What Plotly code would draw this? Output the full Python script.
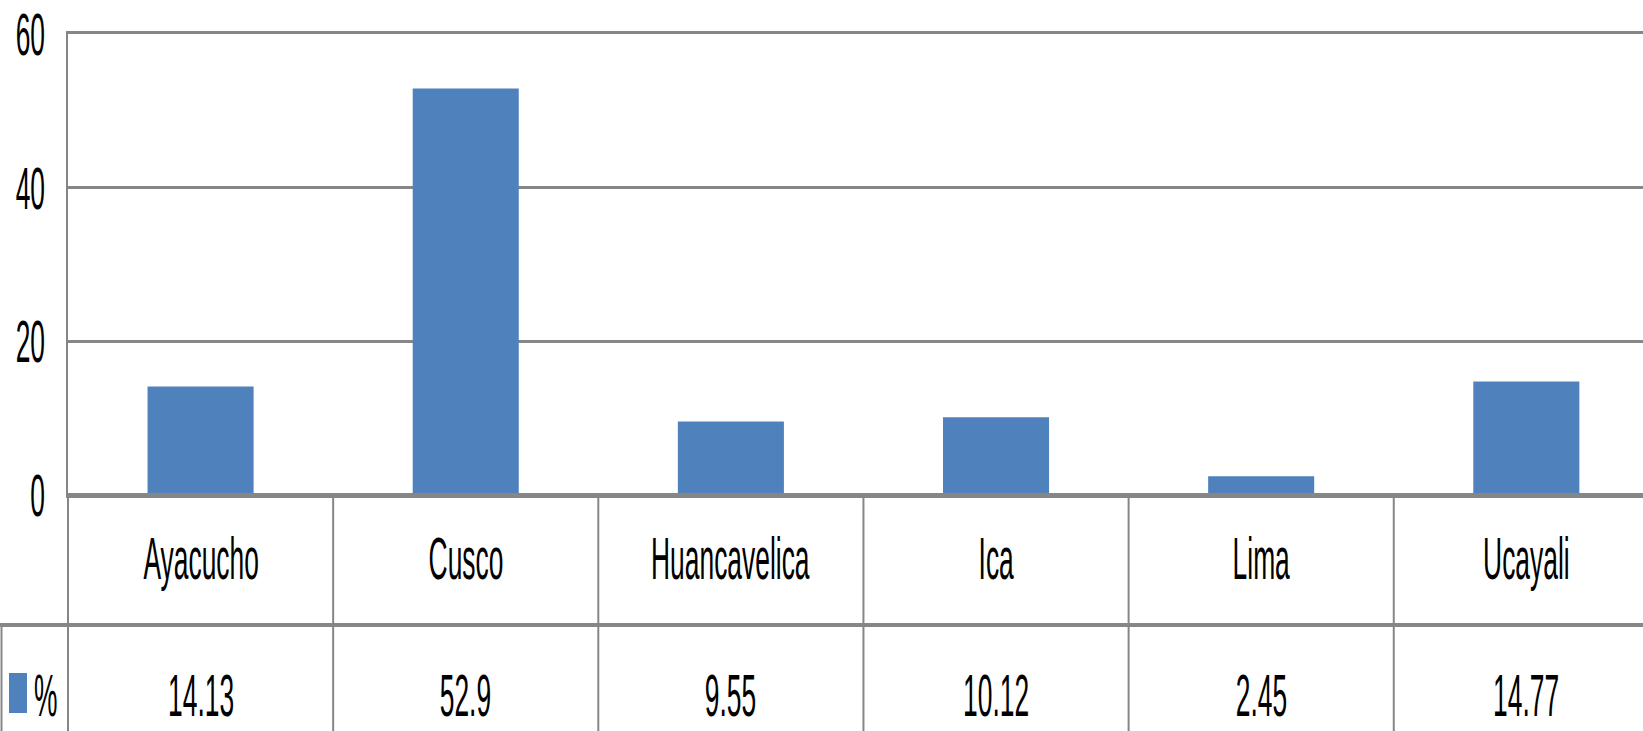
import plotly.graph_objects as go

categories = ["Ayacucho", "Cusco", "Huancavelica", "Ica", "Lima", "Ucayali"]
values = [14.13, 52.9, 9.55, 10.12, 2.45, 14.77]
value_labels = ["14.13", "52.9", "9.55", "10.12", "2.45", "14.77"]
series_name = "%"
y_ticks = [0, 20, 40, 60]

BLUE = "#4F81BD"
GRID = "#868686"
FONT = "Liberation Sans, Arial, sans-serif"
FS = 60

W, H = 1643, 731
ml, mr, mt, mb = 68, 0, 34, 236
plot_h = H - mt - mb
plot_w = W - ml - mr

def py(pixel_y):
    return (H - mb - pixel_y) / plot_h

def px(pixel_x):
    return (pixel_x - ml) / plot_w

fig = go.Figure()
fig.add_trace(go.Bar(x=categories, y=values, name=series_name,
                     marker=dict(color=BLUE, line=dict(width=0)),
                     showlegend=False))

row1_bot = py(625)
row2_bot = py(731)

shapes = []
for i in range(len(categories) - 1):
    shapes.append(dict(type="line", xref="x", yref="paper",
                       x0=i + 0.5, x1=i + 0.5, y0=0, y1=row2_bot,
                       line=dict(color=GRID, width=2), layer="above"))
shapes.append(dict(type="line", xref="paper", yref="paper", x0=0, x1=1.05,
                   y0=0, y1=0, line=dict(color=GRID, width=4), layer="above"))
shapes.append(dict(type="line", xref="paper", yref="paper",
                   x0=px(0), x1=1.05, y0=row1_bot, y1=row1_bot,
                   line=dict(color=GRID, width=4), layer="above"))
shapes.append(dict(type="line", xref="paper", yref="paper", x0=0, x1=0,
                   y0=0, y1=row2_bot, line=dict(color=GRID, width=2), layer="above"))
shapes.append(dict(type="line", xref="paper", yref="paper", x0=px(1.5), x1=px(1.5),
                   y0=row1_bot, y1=row2_bot, line=dict(color=GRID, width=2), layer="above"))
# legend key
shapes.append(dict(type="rect", xref="paper", yref="paper",
                   x0=px(9), x1=px(27), y0=py(713), y1=py(673),
                   fillcolor=BLUE, line=dict(width=0)))

tfont = dict(family=FONT, size=FS, color="black")
annotations = []
for c in categories:
    annotations.append(dict(x=c, xref="x", y=py(558), yref="paper", text=c,
                            showarrow=False, xanchor="center", yanchor="middle",
                            font=tfont))
for c, t in zip(categories, value_labels):
    annotations.append(dict(x=c, xref="x", y=py(695), yref="paper", text=t,
                            showarrow=False, xanchor="center", yanchor="middle",
                            font=tfont))
annotations.append(dict(x=px(45), xref="paper", y=py(695), yref="paper",
                        text=series_name, showarrow=False, xanchor="center",
                        yanchor="middle", font=tfont))

fig.update_layout(
    width=W, height=H,
    margin=dict(l=ml, r=mr, t=mt, b=mb, autoexpand=False),
    paper_bgcolor="white", plot_bgcolor="white",
    bargap=0.6,
    showlegend=False,
    shapes=shapes,
    annotations=annotations,
    xaxis=dict(type="category", range=[-0.5, 5.44], showticklabels=False,
               showgrid=False, zeroline=False, showline=True, mirror=True,
               linecolor=GRID, linewidth=3, ticks="", automargin=False),
    yaxis=dict(range=[0, 60], tickvals=y_ticks, showgrid=True, gridcolor=GRID,
               gridwidth=3, zeroline=False, showline=True, linecolor=GRID,
               linewidth=2, ticks="", ticklabelstandoff=9, automargin=False,
               tickfont=tfont),
)

# Remove the page margin and condense the text horizontally
# (the reference uses a tall, narrow face)
post = """
document.body.style.margin = '0';
document.body.style.overflow = 'hidden';
var gd = document.getElementById('{plot_id}');
var SX = 0.44;
gd.querySelectorAll('.ytick text, .annotation-text').forEach(function(t){
  var bb = t.getBBox();
  var anchor = t.getAttribute('text-anchor') || window.getComputedStyle(t).textAnchor || 'start';
  var ox = anchor === 'end' ? bb.x + bb.width : (anchor === 'middle' ? bb.x + bb.width / 2 : bb.x);
  var oy = bb.y + bb.height / 2;
  var tr = t.getAttribute('transform') || '';
  t.setAttribute('transform', tr + ' translate(' + ox + ',' + oy + ') scale(' + SX + ',1) translate(' + (-ox) + ',' + (-oy) + ')');
});
"""

fig.write_html("out.html", post_script=post, config={"displayModeBar": False})
